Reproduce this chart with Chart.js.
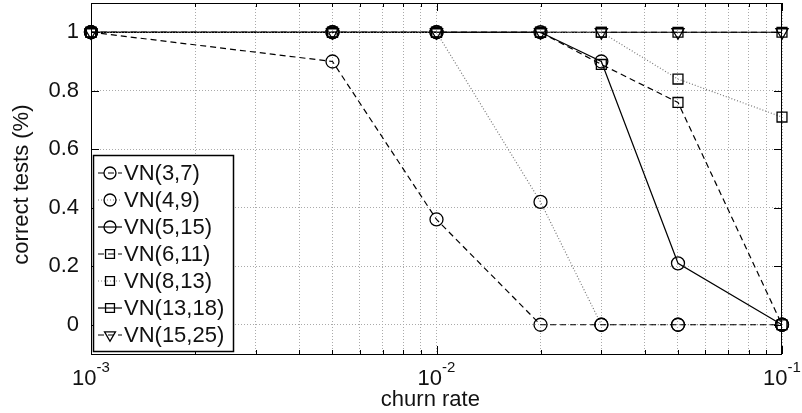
<!DOCTYPE html>
<html>
<head>
<meta charset="utf-8">
<script src="https://cdn.jsdelivr.net/npm/chart.js@4"></script>
<style>
  body { margin: 0; background: #fff; }
  #wrap { width: 802px; height: 413px; }
</style>
</head>
<body>
<div id="wrap"><canvas id="myChart"></canvas></div>
<script>
// data
const churnRates = [0.001, 0.005, 0.01, 0.02, 0.03, 0.05, 0.1];
const seriesNames = ["VN(3,7)", "VN(4,9)", "VN(5,15)", "VN(6,11)", "VN(8,13)", "VN(13,18)", "VN(15,25)"];
const vn3_7 = [1, 0.9, 0.36, 0, 0, 0, 0];
const vn4_9 = [1, 1, 1, 0.42, 0, 0, 0];
const vn5_15 = [1, 1, 1, 1, 0.9, 0.21, 0];
const vn6_11 = [1, 1, 1, 1, 0.89, 0.76, 0];
const vn8_13 = [1, 1, 1, 1, 1, 0.84, 0.71];
const vn13_18 = [1, 1, 1, 1, 1, 1, 1];
const vn15_25 = [1, 1, 1, 1, 1, 1, 1];

const yTicks = [0, 0.2, 0.4, 0.6, 0.8, 1];
const xDecades = [0.001, 0.01, 0.1];
const xDecadeExps = ["-3", "-2", "-1"];
const xGridTicks = [0.001, 0.002, 0.003, 0.004, 0.005, 0.006, 0.007, 0.008, 0.009,
  0.01, 0.02, 0.03, 0.04, 0.05, 0.06, 0.07, 0.08, 0.09, 0.1];

const FONT = "'Liberation Sans', Arial, Helvetica, sans-serif";
const dashed = [6, 4];
const dotted = [1, 2];

// line style per series: [dash, line colour, marker, rotation, radius]
const looks = [
  [dashed, "#000", "circle", 0, 6.5],
  [dotted, "#777", "circle", 0, 6.5],
  [[], "#000", "circle", 0, 6.5],
  [dashed, "#000", "rect", 0, 7],
  [dotted, "#777", "rect", 0, 7],
  [[], "#000", "rect", 0, 7],
  [dashed, "#000", "triangle", 180, 7],
];
const allValues = [vn3_7, vn4_9, vn5_15, vn6_11, vn8_13, vn13_18, vn15_25];

const datasets = allValues.map((vals, i) => {
  const [dash, color, style, rot, r] = looks[i];
  return {
    label: seriesNames[i],
    data: churnRates.map((c, k) => ({ x: c, y: vals[k] })),
    borderColor: color,
    borderDash: dash,
    borderWidth: 1.2,
    pointStyle: style,
    pointRotation: rot,
    pointRadius: r,
    pointHoverRadius: r,
    pointBorderColor: "#000",
    pointBackgroundColor: "rgba(0,0,0,0)",
    pointBorderWidth: 1.3,
    tension: 0,
    fill: false,
    clip: false,
  };
});

function drawMarker(ctx, style, x, y, r) {
  ctx.beginPath();
  if (style === "circle") {
    ctx.arc(x, y, r, 0, Math.PI * 2);
  } else if (style === "rect") {
    const h = r * Math.SQRT1_2;
    ctx.rect(x - h, y - h, 2 * h, 2 * h);
  } else {
    const w = r * Math.sqrt(3) / 2;
    ctx.moveTo(x - w, y - r / 2);
    ctx.lineTo(x + w, y - r / 2);
    ctx.lineTo(x, y + r);
    ctx.closePath();
  }
  ctx.stroke();
}

const axisDecor = {
  id: "axisDecor",
  afterDraw(chart) {
    const { ctx, chartArea: a, scales: { x, y } } = chart;
    ctx.save();
    ctx.strokeStyle = "#000";
    ctx.lineWidth = 1;
    ctx.setLineDash([]);
    ctx.strokeRect(a.left + 0.5, a.top + 0.5, a.right - a.left - 1, a.bottom - a.top);

    // inward tick marks
    ctx.beginPath();
    yTicks.forEach(v => {
      const py = Math.round(y.getPixelForValue(v)) + 0.5;
      ctx.moveTo(a.left, py); ctx.lineTo(a.left + 8, py);
      ctx.moveTo(a.right, py); ctx.lineTo(a.right - 8, py);
    });
    xGridTicks.forEach(v => {
      const px = Math.round(x.getPixelForValue(v)) + 0.5;
      const len = xDecades.includes(v) ? 8 : 4;
      ctx.moveTo(px, a.bottom); ctx.lineTo(px, a.bottom - len);
      ctx.moveTo(px, a.top); ctx.lineTo(px, a.top + len);
    });
    ctx.stroke();

    // x tick labels with superscript exponent
    ctx.fillStyle = "#111";
    ctx.textBaseline = "alphabetic";
    ctx.textAlign = "left";
    xDecades.forEach((v, i) => {
      const px = x.getPixelForValue(v);
      ctx.font = "22px " + FONT;
      const wb = ctx.measureText("10").width;
      ctx.font = "15px " + FONT;
      const we = ctx.measureText(xDecadeExps[i]).width;
      const x0 = px - (wb + we) / 2;
      ctx.font = "22px " + FONT;
      ctx.fillText("10", x0, a.bottom + 31);
      ctx.font = "15px " + FONT;
      ctx.fillText(xDecadeExps[i], x0 + wb, a.bottom + 18);
    });

    // legend box inside the axes
    const lx = a.left + 2, ly = a.top + 152, lw = 140, lh = 196;
    ctx.fillStyle = "#fff";
    ctx.fillRect(lx, ly, lw, lh);
    ctx.lineWidth = 1.5;
    ctx.strokeStyle = "#000";
    ctx.strokeRect(lx + 0.5, ly + 0.5, lw, lh);
    seriesNames.forEach((name, i) => {
      const [dash, color, style, rot, r] = looks[i];
      const cy = ly + 18 + i * 27;
      ctx.lineWidth = 1.2;
      ctx.strokeStyle = color;
      ctx.setLineDash(dash);
      ctx.beginPath();
      ctx.moveTo(lx + 5, cy); ctx.lineTo(lx + 29, cy);
      ctx.stroke();
      ctx.setLineDash([]);
      ctx.strokeStyle = "#000";
      ctx.lineWidth = 1.3;
      drawMarker(ctx, style, lx + 17, cy, style === "circle" ? 6 : r * 0.9);
      ctx.fillStyle = "#111";
      ctx.font = "22px " + FONT;
      ctx.textBaseline = "middle";
      ctx.fillText(name, lx + 31, cy + 1);
    });
    ctx.restore();
  }
};

new Chart(document.getElementById("myChart"), {
  type: "line",
  data: { datasets },
  options: {
    responsive: true,
    maintainAspectRatio: false,
    animation: false,
    layout: { autoPadding: false, padding: { top: 3, right: 20, left: 0, bottom: 0 } },
    plugins: { legend: { display: false }, tooltip: { enabled: false } },
    scales: {
      x: {
        type: "logarithmic",
        min: 0.001,
        max: 0.1,
        afterBuildTicks: s => { s.ticks = xGridTicks.map(v => ({ value: v })); },
        afterFit: s => { s.height = 59; s.paddingLeft = 0; s.paddingRight = 0; },
        ticks: { display: false },
        grid: { color: "#aaa", lineWidth: 1, drawTicks: false },
        border: { display: false, dash: dotted },
        title: { display: true, text: "churn rate  ", color: "#111", font: { family: FONT, size: 22 }, padding: { top: 0, bottom: 0 } },
      },
      y: {
        min: -0.1,
        max: 1.1,
        afterBuildTicks: s => { s.ticks = yTicks.map(v => ({ value: v })); },
        afterFit: s => { s.width = 91; s.paddingTop = 0; s.paddingBottom = 0; },
        ticks: { color: "#111", font: { family: FONT, size: 22 }, padding: 12, callback: v => String(v) },
        grid: { color: "#aaa", lineWidth: 1, drawTicks: false },
        border: { display: false, dash: dotted },
        title: { display: true, text: "correct tests (%)  ", color: "#111", font: { family: FONT, size: 22 }, padding: { top: 9, bottom: 0 } },
      },
    },
  },
  plugins: [axisDecor],
});
</script>
</body>
</html>
